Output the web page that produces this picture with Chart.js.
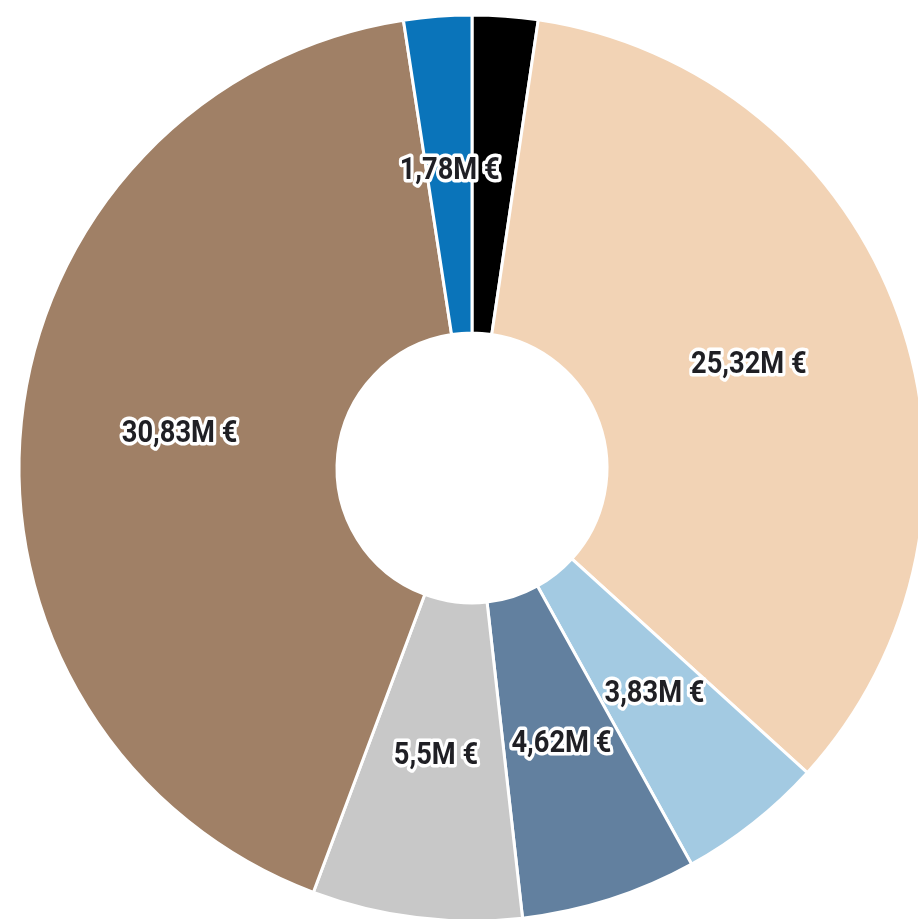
<!DOCTYPE html>
<html>
<head>
<meta charset="utf-8">
<title>Répartition</title>
<script src="https://cdn.jsdelivr.net/npm/chart.js@4/dist/chart.umd.min.js"></script>
<style>
    html, body {
        margin: 0;
        padding: 0;
        background: #ffffff;
        overflow: hidden;
    }
    #chart-wrap {
        position: absolute;
        left: 0;
        top: 0;
        width: 944px;
        height: 936px;
    }
</style>
</head>
<body>
<div id="chart-wrap">
    <canvas id="pie-chart" width="944" height="936"></canvas>
</div>
<script>
// Values in millions of euros, clockwise from 12 o'clock
const categories = ['A', 'B', 'C', 'D', 'E', 'F', 'G'];
const values = [1.72, 25.32, 3.83, 4.62, 5.5, 30.83, 1.78];
const colors = ['#000000', '#f2d3b5', '#a3cae2', '#62809f', '#c8c8c8', '#a08066', '#0a74ba'];

/**
 * Format a value like "25,32M €"
 */
function formatValue(v) {
    return String(v).replace('.', ',') + 'M €';
}

/**
 * Draw the value labels in the middle of each arc,
 * hiding labels that collide (later slices win)
 */
const arcLabels = {
    id: 'arcLabels',
    afterDatasetsDraw(chart) {
        const ctx = chart.ctx;
        const meta = chart.getDatasetMeta(0);
        const placed = [];
        const scaleX = 0.88;

        ctx.save();
        ctx.font = 'bold 31px Roboto';
        ctx.textAlign = 'center';
        ctx.textBaseline = 'middle';
        ctx.lineJoin = 'round';

        for (let i = meta.data.length - 1; i >= 0; i--) {
            const arc = meta.data[i];
            const pos = arc.getCenterPoint();
            const text = formatValue(values[i]);
            const w = ctx.measureText(text).width * scaleX + 6;
            const h = 34;
            const box = { x1: pos.x - w / 2, x2: pos.x + w / 2, y1: pos.y - h / 2, y2: pos.y + h / 2 };

            const hit = placed.some(b => box.x1 < b.x2 && box.x2 > b.x1 && box.y1 < b.y2 && box.y2 > b.y1);
            if (hit) {
                continue;
            }
            placed.push(box);

            ctx.save();
            ctx.translate(pos.x, pos.y - 4);
            ctx.scale(scaleX, 1);
            ctx.strokeStyle = '#ffffff';
            ctx.lineWidth = 7;
            ctx.strokeText(text, 0, 0);
            ctx.fillStyle = '#1f1f24';
            ctx.fillText(text, 0, 0);
            ctx.restore();
        }
        ctx.restore();
    }
};

document.addEventListener('DOMContentLoaded', function() {
    const ctx = document.getElementById('pie-chart').getContext('2d');

    new Chart(ctx, {
        type: 'doughnut',
        data: {
            labels: categories,
            datasets: [{
                data: values,
                backgroundColor: colors,
                borderColor: '#ffffff',
                borderWidth: 3,
                hoverOffset: 0
            }]
        },
        options: {
            responsive: false,
            animation: false,
            radius: 453,
            cutout: 139,
            layout: { padding: 0 },
            plugins: {
                legend: { display: false },
                tooltip: { enabled: false }
            }
        },
        plugins: [arcLabels]
    });
});
</script>
</body>
</html>
